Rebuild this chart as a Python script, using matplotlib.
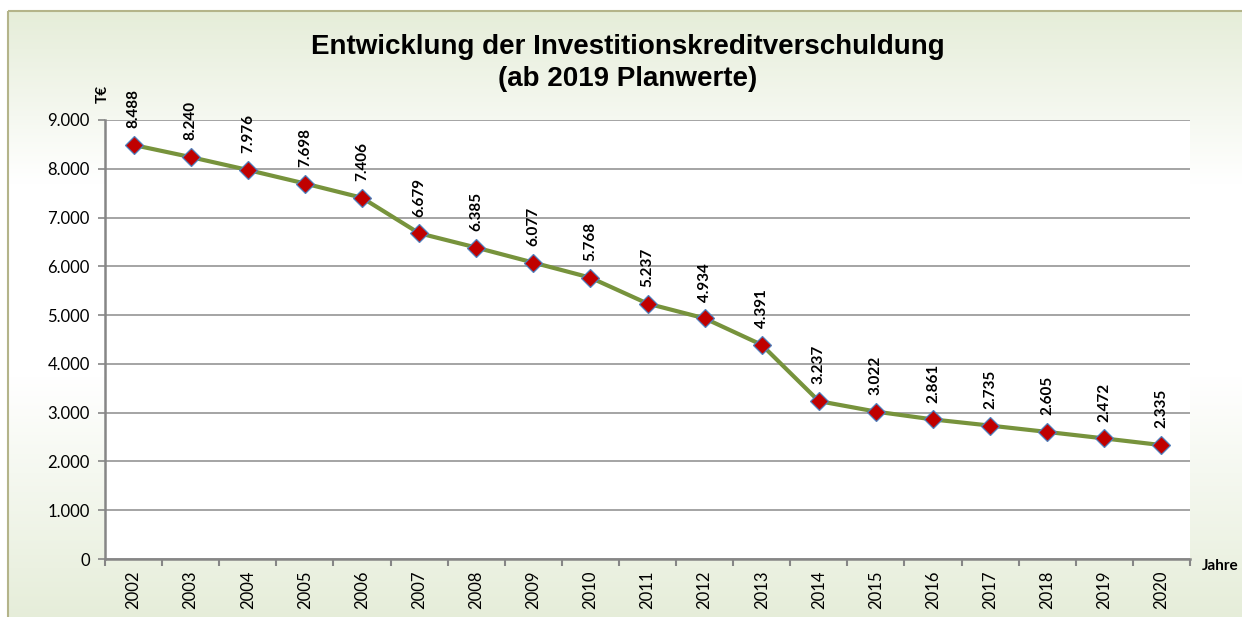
import numpy as np
import matplotlib.pyplot as plt
from matplotlib.patches import Rectangle
from matplotlib.colors import LinearSegmentedColormap

# data
years = [str(y) for y in range(2002, 2021)]
values = [8488, 8240, 7976, 7698, 7406, 6679, 6385, 6077, 5768, 5237,
          4934, 4391, 3237, 3022, 2861, 2735, 2605, 2472, 2335]
yticks = [0, 1000, 2000, 3000, 4000, 5000, 6000, 7000, 8000, 9000]

title = "Entwicklung der Investitionskreditverschuldung\n(ab 2019 Planwerte)"


def de_fmt(v):
    return f"{v:,}".replace(",", ".")


W, H = 1242, 617
fig = plt.figure(figsize=(W / 100, H / 100), dpi=100)
fig.patch.set_facecolor("white")

# background with vertical gradient and frame
bg = fig.add_axes([0, 0, 1, 1], zorder=-1)
bg.set_xlim(0, W)
bg.set_ylim(H, 0)
bg.axis("off")
green = (0.90, 0.93, 0.85)
cmap = LinearSegmentedColormap.from_list(
    "bg", [(0, green), (0.28, (1, 1, 1)), (0.6, (1, 1, 1)), (1, green)])
grad = np.linspace(0, 1, 256).reshape(-1, 1)
bg.imshow(grad, cmap=cmap, aspect="auto", extent=(8, W + 5, H + 5, 11))
bg.add_patch(Rectangle((8, 11), W, H, fill=False, edgecolor="#b4b48a", lw=1.5))

ax = fig.add_axes([105 / W, 1 - 559 / H, (1190 - 105) / W, (559 - 120) / H])
ax.set_facecolor("white")

x = np.arange(len(years))
ax.plot(x, values, color="#77933C", lw=3, marker="D", markersize=9,
        markerfacecolor="#C00000", markeredgecolor="#4F81BD", markeredgewidth=0.9,
        zorder=3)

for xi, v in zip(x, values):
    ax.annotate(de_fmt(v), (xi, v), xytext=(0, 12), textcoords="offset points",
                rotation=90, ha="center", va="bottom", fontsize=11,
                fontweight="bold", family="Lato", annotation_clip=False)

ax.set_xlim(-0.5, len(years) - 0.5)
ax.set_ylim(0, 9000)
ax.set_yticks(yticks)
ax.set_yticklabels([de_fmt(t) for t in yticks], family="Lato", fontsize=12)
ax.set_xticks(x)
ax.set_xticklabels(years, rotation=90, family="Lato", fontsize=12)
ax.set_xticks(np.arange(-0.5, len(years)), minor=True)
ax.tick_params(axis="x", which="major", length=0, pad=8)
ax.tick_params(axis="x", which="minor", length=5, color="#868686", width=1.5)
ax.tick_params(axis="y", length=5, color="#868686", width=1.2, pad=6)

ax.grid(axis="y", color="#8c8c8c", lw=1.1)
ax.set_axisbelow(True)
for s in ["top", "right"]:
    ax.spines[s].set_visible(False)
for s in ["left", "bottom"]:
    ax.spines[s].set_color("#868686")
    ax.spines[s].set_linewidth(1.8)

fig.text(628 / W, 1 - 63 / H, title, ha="center", va="center", fontsize=20,
         fontweight="bold", family="Liberation Sans", linespacing=1.35)
fig.text(103 / W, 1 - 94 / H, "T€", rotation=90, ha="center", va="center",
         fontsize=11, fontweight="bold", family="Lato")
fig.text(1202 / W, 1 - 566 / H, "Jahre", ha="left", va="center",
         fontsize=11, fontweight="bold", family="Lato")

fig.savefig("out.png", dpi=100)
